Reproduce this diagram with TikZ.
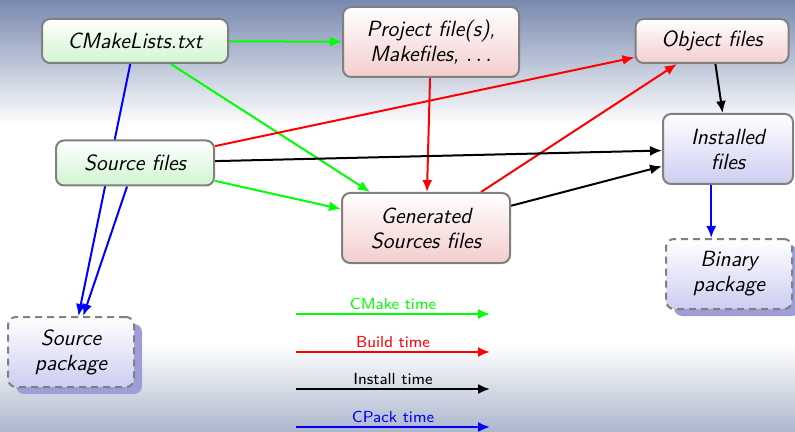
\documentclass[tikz,border=0pt]{standalone}
\usetikzlibrary{arrows.meta,shadows}
\pgfdeclarelayer{back}
\pgfdeclarelayer{edges}
\pgfsetlayers{back,edges,main}
\definecolor{bgtop}{RGB}{120,137,175}
\definecolor{bgbot}{RGB}{172,182,205}
\definecolor{boxgreen}{RGB}{208,245,208}
\definecolor{boxred}{RGB}{243,205,205}
\definecolor{boxblue}{RGB}{205,205,242}
\definecolor{shadowblue}{RGB}{158,158,214}

\begin{document}
\begin{tikzpicture}[x=0.5pt, y=-0.5pt,
	box/.style={draw=gray, line width=1pt, rounded corners=4pt, align=center, inner sep=2pt,
		font=\sffamily\itshape\fontsize{11}{12.5}\selectfont},
	cmakebox/.style={box, top color=white, bottom color=boxgreen},
	buildbox/.style={box, top color=white, bottom color=boxred},
	instbox/.style={box, top color=white, bottom color=boxblue},
	pkgbox/.style={instbox, dash pattern=on 3.5pt off 2.5pt,
		drop shadow={shadow xshift=4pt, shadow yshift=-3.5pt, fill=shadowblue, opacity=1}},
	flow/.style={line width=1pt, -{Latex[length=6pt,width=5pt]}},
	legend/.style={font=\footnotesize\sffamily, above, inner sep=1.5pt}]
			
			\useasboundingbox (0, 0) rectangle (795, 432);
			\begin{pgfonlayer}{back}
			\fill [white] (0, 0) rectangle (795, 432);
			\shade [top color=bgtop, bottom color=white] (0, 0) rectangle (795, 125);
			\shade [top color=white, bottom color=bgbot] (0, 345) rectangle (795, 432);
			\end{pgfonlayer}
			
			\node [cmakebox, minimum width=93pt, minimum height=22pt] (cml) at (135, 41) {CMakeLists.txt};
			\node [cmakebox, minimum width=79pt, minimum height=22.5pt] (src) at (135, 163) {Source files};
			\node [buildbox, minimum width=88pt, minimum height=35pt] (proj) at (431, 42) {Project file(s),\\ Makefiles, $\ldots$};
			\node [buildbox, minimum width=84pt, minimum height=35pt] (gen) at (426, 228) {Generated\\ Sources files};
			\node [buildbox, minimum width=76.5pt, minimum height=22pt] (obj) at (712, 41) {Object files};
			\node [instbox, minimum width=65pt, minimum height=35pt] (inst) at (728, 149) {Installed\\ files};
			\node [pkgbox, minimum width=63pt, minimum height=35pt] (srcpkg) at (71, 352) {Source\\ package};
			\node [pkgbox, minimum width=63pt, minimum height=35pt] (binpkg) at (729, 274) {Binary\\ package};
			
			\begin{pgfonlayer}{edges}
			\draw [flow, green] (cml) -- (proj);
			\draw [flow, green] (cml) -- (gen);
			\draw [flow, green] (src) -- (gen);
			\draw [flow, red] (proj) -- (gen);
			\draw [flow, red] (src) -- (obj);
			\draw [flow, red] (gen) -- (obj);
			\draw [flow, black] (src) -- (inst);
			\draw [flow, black] (gen) -- (inst);
			\draw [flow, black] (obj) -- (inst);
			\draw [flow, blue] (cml) -- (srcpkg);
			\draw [flow, blue] (src) -- (srcpkg);
			\draw [flow, blue] (inst.245) -- (inst.245 |- binpkg.north);
			\end{pgfonlayer}
			
			\coordinate (cmA) at (296, 314);
			\coordinate (cmB) at (490, 314);
			\coordinate (buA) at (296, 352);
			\coordinate (buB) at (490, 352);
			\coordinate (inA) at (296, 389);
			\coordinate (inB) at (490, 389);
			\coordinate (cpA) at (296, 427);
			\coordinate (cpB) at (490, 427);
			\draw [flow, green] (cmA) -- node [legend] {CMake time} (cmB);
			\draw [flow, red] (buA) -- node [legend] {Build time} (buB);
			\draw [flow, black] (inA) -- node [legend] {Install time} (inB);
			\draw [flow, blue] (cpA) -- node [legend] {CPack time} (cpB);
			
\end{tikzpicture}
\end{document}
